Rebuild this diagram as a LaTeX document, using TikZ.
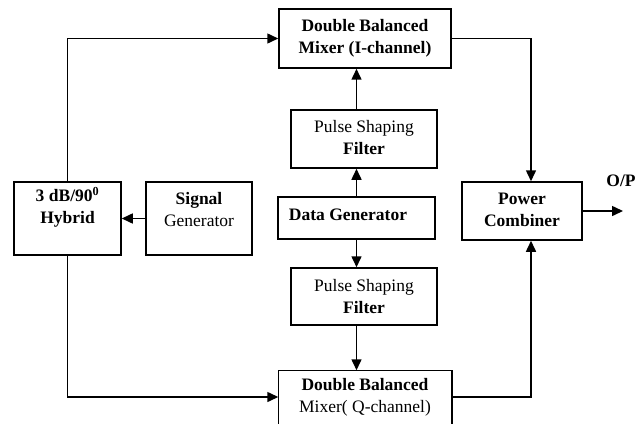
\documentclass[tikz,border=0pt]{standalone}
\usepackage{fontspec}
\setmainfont{Liberation Serif}
\usetikzlibrary{arrows.meta,calc}
\begin{document}
\begin{tikzpicture}[x=1pt,y=-1pt,line width=1.5pt,
  blk/.style={draw,inner sep=0pt},
  txt/.style={inner sep=0pt,align=center,font=\fontsize{17.5}{22}\selectfont},
  arr/.style={-{Triangle[length=11pt,width=10pt]}}]
\useasboundingbox (0,0) rectangle (644,433);
% boxes
\node[blk,minimum width=172pt,minimum height=59pt] (mixI) at (365,38.5) {};
\node[txt] (mixIt) at (365,38) {\textbf{Double Balanced}\\\textbf{Mixer (I-channel)}};
\node[blk,minimum width=146pt,minimum height=58pt] (psfT) at (364,139) {};
\node[txt] (psfTt) at (364,138) {Pulse Shaping\\\textbf{Filter}};
\node[blk,minimum width=157pt,minimum height=42pt] (dg) at (356.5,218) {};
\node[txt] (dgt) at (348,215) {\textbf{Data Generator}};
\node[blk,minimum width=146pt,minimum height=57pt] (psfB) at (364,296.5) {};
\node[txt] (psfBt) at (364,297) {Pulse Shaping\\\textbf{Filter}};
\node[inner sep=0pt,minimum width=172pt,minimum height=52pt] (mixQ) at (365,397) {};
\draw (mixQ.south west) -- (mixQ.north west) -- (mixQ.north east) -- (mixQ.south east);
\node[txt] (mixQt) at (365,397) {\textbf{Double Balanced}\\Mixer( Q-channel)};
\node[blk,minimum width=107pt,minimum height=73pt] (hyb) at (67.5,218.5) {};
\node[txt] (hybt) at (67.5,207) {\textbf{3 dB/90\textsuperscript{0}}\\\textbf{Hybrid}};
\node[blk,minimum width=106pt,minimum height=73pt] (sg) at (199,218.5) {};
\node[txt] (sgt) at (199,210) {\textbf{Signal}\\Generator};
\node[blk,minimum width=120pt,minimum height=58pt] (pc) at (522,211) {};
\node[txt] (pct) at (522,210) {\textbf{Power}\\\textbf{Combiner}};
\node[txt,font=\fontsize{17.5}{22}\selectfont\bfseries] (op) at (621,181) {O/P};
\coordinate (opx) at (623,0);
\coordinate (xr) at (531,0);
% connectors
\draw[arr] (hyb.north) |- (mixI.west);
\draw[arr] (hyb.south) |- (mixQ.west);
\draw[arr] (sg.west) -- (hyb.east);
\draw[arr] (dg.north) -- (dg.north |- psfT.south);
\draw[arr] (dg.north |- psfT.north) -- (dg.north |- mixI.south);
\draw[arr] (dg.south) -- (dg.south |- psfB.north);
\draw[arr] (dg.south |- psfB.south) -- (dg.south |- mixQ.north);
\draw[arr] (mixI.east) -| (xr |- pc.north);
\draw[arr] (mixQ.east) -| (xr |- pc.south);
\draw[arr] (pc.east) -- (pc.east -| opx);
\end{tikzpicture}
\end{document}
